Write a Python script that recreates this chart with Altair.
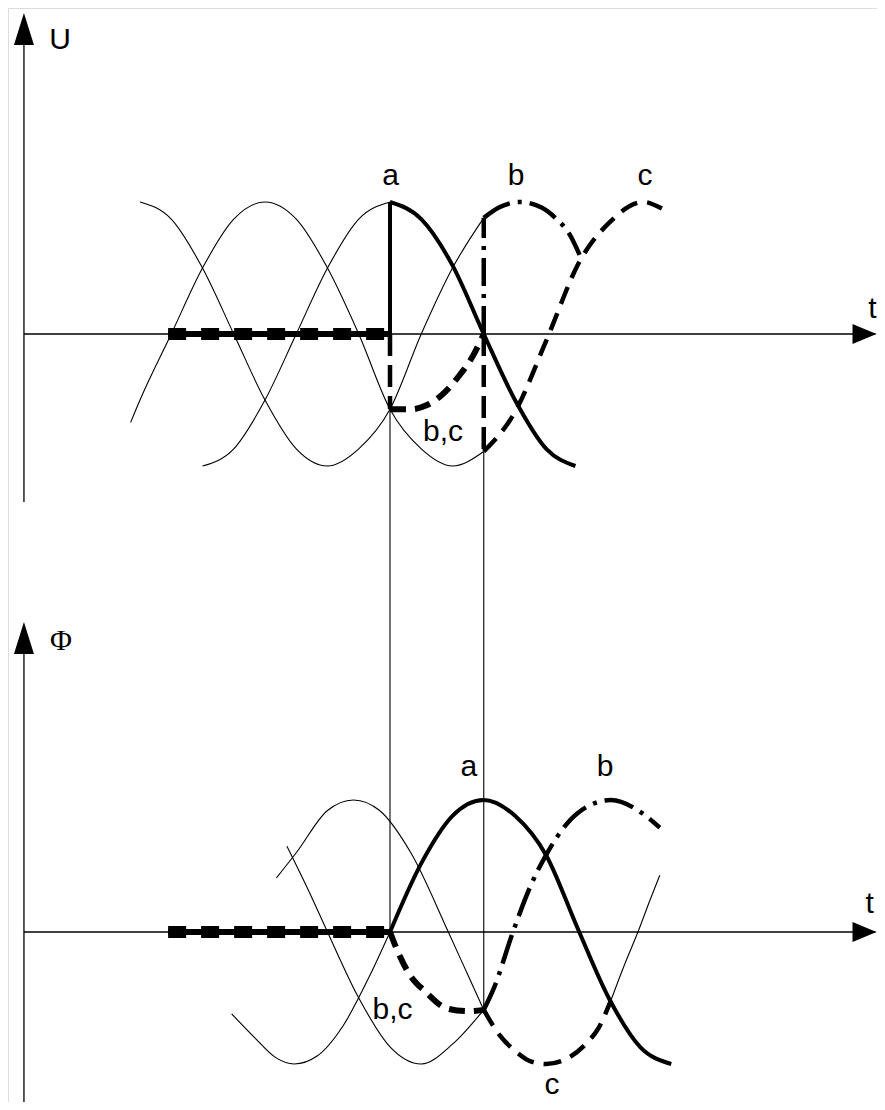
import altair as alt
import pandas as pd

# x: electrical angle in degrees (0 = switching instant, peak of phase-a voltage)
# y: per-unit value; the flux (Phi) panel sits below the voltage (U) panel
PHI_BASE = -4.53
X_DOMAIN = [-366.71, 467.5]
Y_DOMAIN = [-5.818, 2.4697]

# ---------------- U panel ----------------
ua_thin_t = [-180, -150, -120, -90, -60, -30, 0]
ua_thin_v = [-1.0, -0.87, -0.5, 0.0, 0.5, 0.87, 1.0]
ub_thin_t = [-240, -210, -180, -150, -120, -90, -60, -30, 0, 30, 60, 90]
ub_thin_v = [1.0, 0.87, 0.5, 0.0, -0.5, -0.87, -1.0, -0.87, -0.57, 0.0, 0.5, 0.88]
uc_thin_t = [-249, -240, -210, -180, -150, -120, -90, -60, -30, 0, 30, 60, 90]
uc_thin_v = [-0.67, -0.5, 0.0, 0.5, 0.87, 1.0, 0.87, 0.5, 0.0, -0.57, -0.87, -1.0, -0.89]

ua_t = [0, 30, 60, 90, 120, 150, 178]
ua_v = [1.0, 0.87, 0.52, 0.0, -0.5, -0.87, -1.0]
ub_t = [90, 105, 125, 145, 160, 172, 182]
ub_v = [0.88, 0.96, 1.0, 0.96, 0.87, 0.76, 0.6]
uc_t = [90, 120, 150, 182, 210, 243, 261]
uc_v = [-0.89, -0.59, -0.05, 0.55, 0.84, 1.0, 0.95]
ubc_t = [0, 20, 35, 50, 66, 80, 90]
ubc_v = [-0.57, -0.57, -0.54, -0.46, -0.32, -0.16, 0.0]
pre_t = [-213, 0]
pre_v = [0.0, 0.0]

# ---------------- Phi panel (relative to its own t-axis) ----------------
fa_thin_t = [-152, -130, -110, -92, -70, -45, -20, 0]
fa_thin_v = [-0.62, -0.8, -0.95, -1.0, -0.94, -0.71, -0.34, 0.0]
fb_thin_t = [-99, -75, -60, -30, 0, 30, 60, 90]
fb_thin_v = [0.65, 0.26, 0.0, -0.5, -0.87, -1.0, -0.85, -0.59]
fc_thin_t = [-109, -90, -60, -35, -10, 20, 56, 75, 90]
fc_thin_v = [0.41, 0.6, 0.92, 1.0, 0.92, 0.6, 0.0, -0.33, -0.59]
fc2_thin_t = [212, 225, 238, 250, 259]
fc2_thin_v = [-0.52, -0.25, 0.0, 0.25, 0.43]

fa_t = [0, 30, 60, 90, 120, 150, 180, 210, 240, 270]
fa_v = [0.0, 0.52, 0.88, 1.0, 0.88, 0.58, 0.03, -0.5, -0.87, -1.0]
fb_t = [90, 100, 118, 135, 151, 180, 212, 242, 259]
fb_v = [-0.59, -0.42, 0.0, 0.35, 0.6, 0.9, 1.0, 0.9, 0.79]
fc_t = [90, 105, 120, 135, 150, 167, 189, 200, 212]
fc_v = [-0.59, -0.78, -0.9, -0.98, -1.0, -0.97, -0.84, -0.73, -0.52]
fbc_t = [0, 7, 17, 35, 55, 75, 90]
fbc_v = [0.0, -0.14, -0.3, -0.46, -0.58, -0.6, -0.59]

# vertical jumps / connectors: (t, v_from, v_to, style)
jump_t = [0, 0, 90, 90, 0, 90]
jump_v = [0.0, 0.0, 0.0, 0.0, -0.57, -0.89]
jump_v2 = [1.0, -0.57, 0.88, -0.89, PHI_BASE, PHI_BASE - 0.59]
jump_style = ["solid", "dash", "dashdot", "dash", "thin", "thin"]

# axes
axis_x0, axis_x1 = -351.4, 466.0
u_axis_top, u_axis_bottom = 2.3, -1.273
phi_axis_top, phi_axis_bottom = -2.3, -5.818
arrow_up_t = [-351.4, -351.4]
arrow_up_v = [2.432, -2.182]
arrow_right_t = [467.0, 467.0]
arrow_right_v = [0.0, PHI_BASE]

# labels
label_text = ["U", "t", "a", "b", "c", "b,c", "t", "a", "b", "b,c", "c"]
label_t = [-316.8, 463.0, 0.5, 121.0, 244.8, 50.9, 460.5, 75.8, 206.4, 2.4, 155.5]
label_v = [2.159, 0.121, 1.129, 1.129, 1.129, -0.81, -4.386, -3.348, -3.348, -5.189, -5.76]
phi_label_t = [-315.8]
phi_label_v = [-2.394]


def curve_rows(name, ts, vs, style, base=0.0):
    return [{"curve": name, "t": t, "v": v + base, "style": style} for t, v in zip(ts, vs)]


rows = []
rows += curve_rows("ua_thin", ua_thin_t, ua_thin_v, "thin")
rows += curve_rows("ub_thin", ub_thin_t, ub_thin_v, "thin")
rows += curve_rows("uc_thin", uc_thin_t, uc_thin_v, "thin")
rows += curve_rows("fa_thin", fa_thin_t, fa_thin_v, "thin", PHI_BASE)
rows += curve_rows("fb_thin", fb_thin_t, fb_thin_v, "thin", PHI_BASE)
rows += curve_rows("fc_thin", fc_thin_t, fc_thin_v, "thin", PHI_BASE)
rows += curve_rows("fc2_thin", fc2_thin_t, fc2_thin_v, "thin", PHI_BASE)
rows += curve_rows("ua", ua_t, ua_v, "solid")
rows += curve_rows("fa", fa_t, fa_v, "solid", PHI_BASE)
rows += curve_rows("ub", ub_t, ub_v, "dashdot")
rows += curve_rows("fb", fb_t, fb_v, "dashdot", PHI_BASE)
rows += curve_rows("uc", uc_t, uc_v, "dash")
rows += curve_rows("fc", fc_t, fc_v, "dash", PHI_BASE)
rows += curve_rows("ubc", ubc_t, ubc_v, "bc")
rows += curve_rows("fbc", fbc_t, fbc_v, "bc", PHI_BASE)
rows += curve_rows("upre", pre_t, pre_v, "pre")
rows += curve_rows("fpre", pre_t, pre_v, "pre", PHI_BASE)
curves = pd.DataFrame(rows)

jumps = pd.DataFrame({"t": jump_t, "v": jump_v, "v2": jump_v2, "style": jump_style})

axes = pd.DataFrame({
    "t": [axis_x0, axis_x0, axis_x0, axis_x0],
    "t2": [axis_x0, axis_x1, axis_x0, axis_x1],
    "v": [u_axis_bottom, 0.0, phi_axis_bottom, PHI_BASE],
    "v2": [u_axis_top, 0.0, phi_axis_top, PHI_BASE],
})
arrows_up = pd.DataFrame({"t": arrow_up_t, "v": arrow_up_v})
arrows_right = pd.DataFrame({"t": arrow_right_t, "v": arrow_right_v})
labels = pd.DataFrame({"t": label_t, "v": label_v, "text": label_text})
phi_label = pd.DataFrame({"t": phi_label_t, "v": phi_label_v, "text": ["Φ"]})

X = alt.X("t:Q", scale=alt.Scale(domain=X_DOMAIN, nice=False, zero=False), axis=None)
Y = alt.Y("v:Q", scale=alt.Scale(domain=Y_DOMAIN, nice=False, zero=False), axis=None)


def lines(style, **kw):
    return (
        alt.Chart(curves)
        .transform_filter(alt.datum.style == style)
        .mark_line(interpolate="monotone", color="black", **kw)
        .encode(x=X, y=Y, detail="curve:N", order="t:Q")
    )


def rules(style, **kw):
    return (
        alt.Chart(jumps)
        .transform_filter(alt.datum.style == style)
        .mark_rule(color="black", **kw)
        .encode(x=X, y=Y, y2="v2:Q")
    )


layers = [
    lines("thin", strokeWidth=1.1),
    rules("thin", strokeWidth=1.1),
    alt.Chart(axes).mark_rule(color="black", strokeWidth=1.3).encode(x=X, x2="t2:Q", y=Y, y2="v2:Q"),
    lines("pre", strokeWidth=6),
    lines("pre", strokeWidth=12, strokeDash=[18, 15]),
    lines("bc", strokeWidth=6, strokeDash=[16, 9]),
    lines("dash", strokeWidth=4.5, strokeDash=[18, 10]),
    lines("dashdot", strokeWidth=4.5, strokeDash=[30, 8, 4, 8]),
    lines("solid", strokeWidth=4),
    rules("solid", strokeWidth=4),
    rules("dash", strokeWidth=4.5, strokeDash=[22, 9]),
    rules("dashdot", strokeWidth=4.5, strokeDash=[28, 8, 4, 8]),
    alt.Chart(arrows_up).mark_point(
        shape="M0,0L0.625,2L-0.625,2Z", size=1024, filled=True, color="black", opacity=1, strokeWidth=0
    ).encode(x=X, y=Y),
    alt.Chart(arrows_right).mark_point(
        shape="M0,0L-1.5,-0.625L-1.5,0.625Z", size=1024, filled=True, color="black", opacity=1, strokeWidth=0
    ).encode(x=X, y=Y),
    alt.Chart(labels).mark_text(
        font="Liberation Sans", fontSize=30, align="center", baseline="alphabetic", color="black"
    ).encode(x=X, y=Y, text="text:N"),
    alt.Chart(phi_label).mark_text(
        font="Liberation Serif", fontSize=30, align="center", baseline="alphabetic", color="black"
    ).encode(x=X, y=Y, text="text:N"),
]

chart = (
    alt.layer(*layers)
    .properties(width=869, height=1094, padding=0, autosize=alt.AutoSizeParams(type="none"))
    .configure_view(stroke=None)
    .configure(background="white")
)

chart.save("out.html", embed_options={"renderer": "svg", "actions": False})
